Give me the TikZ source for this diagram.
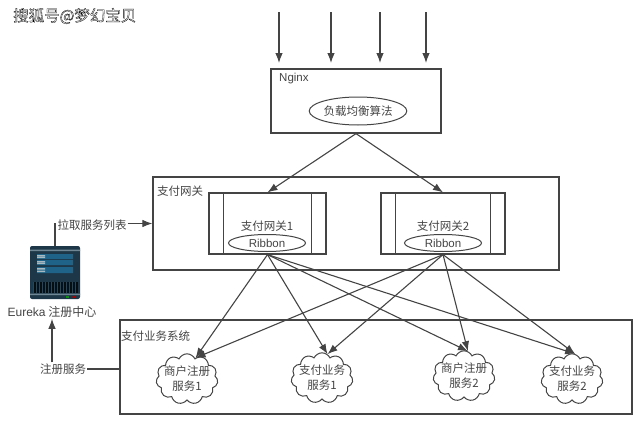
\documentclass[tikz,border=0pt]{standalone}
\usepackage{fontspec}
\setmainfont{Noto Sans CJK SC}
\newfontfamily\latin{Liberation Sans}
\usetikzlibrary{calc,arrows.meta,shapes.symbols,shapes.geometric}
\definecolor{ink}{HTML}{444444}
\definecolor{srvdark}{HTML}{1D3748}
\definecolor{srvblue}{HTML}{1F6488}
\definecolor{srvline}{HTML}{6F8794}
\tikzset{
	flow/.style = {ink,line width=1.1pt,-{Latex[length=10pt,width=7.5pt]}},
	wire/.style = {ink,line width=1.1pt},
	frame/.style = {draw=ink,line width=1.2pt,inner sep=0pt},
	word/.style = {text=ink,font=\fontsize{11.5}{14}\selectfont,inner sep=1pt},
	balloon/.style = {draw=ink,line width=1pt,ellipse,inner sep=0pt,text=ink,font=\fontsize{11.5}{14}\selectfont},
	puff/.style = {draw=ink,line width=1pt,cloud,cloud puffs=11,cloud puff arc=130,aspect=1.35,inner sep=-3pt,align=center,text=ink,font=\fontsize{11.5}{15}\selectfont},
	server/.pic = {
		\fill[srvdark,rounded corners=2pt] (0,0) rectangle (50,53);
		\fill[srvline] (0,3.5) rectangle (50,5) (0,47.5) rectangle (50,49);
		\fill[srvblue] (7,8) rectangle (43,13) (7,14) rectangle (43,19) (7,21) rectangle (43,27);
		\fill[srvline!60!white] (7,9) rectangle (15,10.5) (7,15) rectangle (15,16.5) (7,22) rectangle (15,23.5) (7,11) rectangle (15,12) (7,17) rectangle (15,18) (7,24.5) rectangle (15,26);
		\fill[srvblue!40!srvdark] (3,36) rectangle (47,47);
		\foreach \vent in {4,7,...,46} {
			\fill[black!75!srvdark] (\vent,36) rectangle ++(1.8,11);
		}
		\fill[green!60!black] (36,50) rectangle ++(3,2);
		\fill[red!65!black] (43,50) rectangle ++(3,2);
		\coordinate (-top) at (25,0);
	}
}

\begin{document}
\begin{tikzpicture}[x=1pt,y=-1pt]
	\useasboundingbox (0,0) rectangle (640,423);
	% watermark
	\node[anchor=west,inner sep=0pt,font=\fontsize{15.5}{18}\selectfont] (mark) at (13,16) {\color{white}\special{pdf:code 2 Tr 0.3 w 0 0 0 RG}搜狐号@梦幻宝贝\special{pdf:code 0 Tr}};
	% nginx
	\node[frame,minimum width=170pt,minimum height=64pt] (nginx) at (356,101) {};
	\node[word,anchor=west] (nginxname) at (278,79) {\latin Nginx};
	\node[balloon,minimum width=95pt,minimum height=28pt] (balance) at (358,111) {负载均衡算法};
	\foreach \x/\id in {279/a,331/b,380/c,426/d} {
		\coordinate (from\id) at (\x,12);
		\coordinate (to\id) at (\x,63);
		\draw[flow] (from\id) -- (to\id);
	}
	% gateway
	\node[frame,minimum width=406pt,minimum height=93pt] (gwbox) at (356,223.5) {};
	\node[word,anchor=west] (gwname) at (156,191) {支付网关};
	\node[frame,minimum width=117pt,minimum height=61pt] (gw1) at (267.5,223.5) {};
	\node[frame,minimum width=124pt,minimum height=61pt] (gw2) at (443,223.5) {};
	\foreach \gw in {gw1,gw2} {
		\draw[wire] ($(\gw.north west)+(15,0)$) -- ($(\gw.south west)+(15,0)$);
		\draw[wire] ($(\gw.north east)+(-15,0)$) -- ($(\gw.south east)+(-15,0)$);
	}
	\node[word] (gw1name) at (267,226) {支付网关1};
	\node[word] (gw2name) at (443,226) {支付网关2};
	\node[balloon,minimum width=77pt,minimum height=17pt] (rib1) at (267,243) {\latin Ribbon};
	\node[balloon,minimum width=77pt,minimum height=17pt] (rib2) at (443,243) {\latin Ribbon};
	\draw[flow] (nginx.south) -- (gw1.north);
	\draw[flow] (nginx.south) -- (gw2.north);
	% services
	\node[frame,minimum width=512pt,minimum height=94pt] (bizbox) at (376,367) {};
	\node[word,anchor=west] (bizname) at (120,336) {支付业务系统};
	\node[puff] (svc1) at (187,379) {商户注册\\服务1};
	\node[puff] (svc2) at (322,378) {支付业务\\服务1};
	\node[puff] (svc3) at (464,376) {商户注册\\服务2};
	\node[puff] (svc4) at (572,379) {支付业务\\服务2};
	\foreach \gw in {gw1,gw2} {
		\foreach \svc/\ang in {svc1/68,svc2/77,svc3/81,svc4/83} {
			\draw[flow] (\gw.south) -- (\svc.\ang);
		}
	}
	% registry
	\pic (eureka) at (30,246) {server};
	\node[word,font=\fontsize{12}{14}\selectfont] (eurekaname) at (52,312) {{\latin Eureka} 注册中心};
	\node[word] (pull) at (92,225.5) {拉取服务列表};
	\node[word] (reg) at (63,369) {注册服务};
	\draw[wire] (eureka-top) |- (gwbox.west -| pull.west);
	\draw[flow] (gwbox.west -| pull.east) -- (gwbox.west);
	\draw[flow] (eurekaname.south |- reg.north) -- (eurekaname.south);
	\draw[wire] (reg.east) -- (bizbox.west |- reg.east);
\end{tikzpicture}
\end{document}
